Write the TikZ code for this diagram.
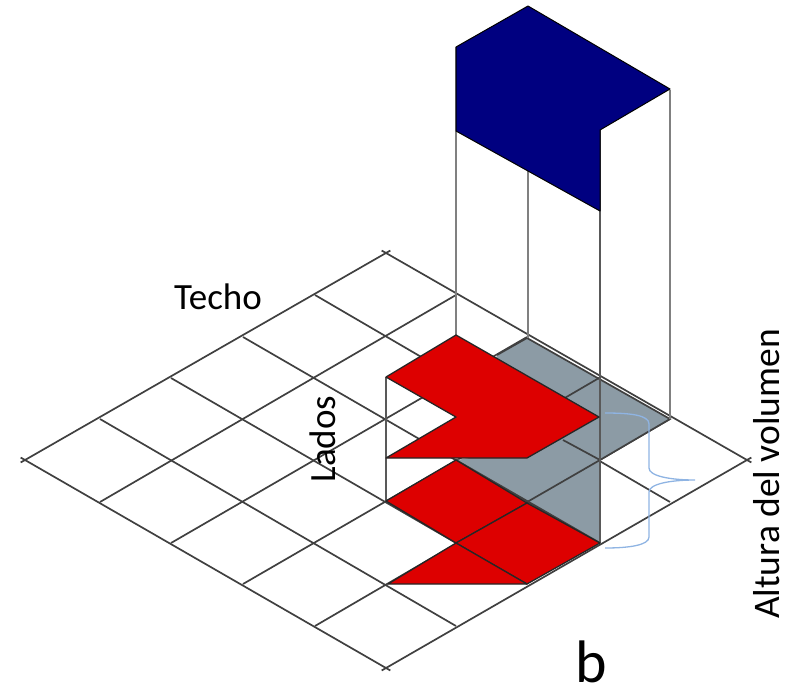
\documentclass[tikz,border=0pt]{standalone}
\usepackage{fontspec}
\setmainfont{Carlito}
\usetikzlibrary{calc}
\definecolor{roofblue}{RGB}{0,0,128}
\definecolor{floorred}{RGB}{221,0,0}
\definecolor{shadegray}{RGB}{140,155,165}
\definecolor{bracecol}{RGB}{143,180,227}
\tikzset{
  gridline/.style={line width=1.7pt,color=black!75},
  cornerline/.style={gridline,shorten <=-5pt,shorten >=-5pt},
  wallline/.style={line width=2.4pt,color=black!50},
  redface/.style={fill=floorred,draw=black!85,line width=1.3pt,line join=round},
  roofface/.style={fill=roofblue,draw=black,line width=1pt,line join=round},
  bracelab/.style={line width=1.3pt,color=bracecol},
  textlab/.style={font=\fontsize{37}{40}\selectfont,inner sep=0pt,text=black}
}
\begin{document}
\begin{tikzpicture}[x=1pt,y=-1pt]
  \useasboundingbox (0,0) rectangle (798,694);
  % floor grid
  \foreach \xa/\ya/\xb/\yb in {315/295/670/502,243/337/599/543,171/378/527/584,100/419/456/626,
    456/295/100/502,527/337/171/543,599/378/243/584,670/419/315/626}
    \draw[gridline] (\xa,\ya)--(\xb,\yb);
  \foreach \xa/\ya/\xb/\yb in {386/253/747/460,25/460/386/668,386/253/25/460,747/460/386/668}
    \draw[cornerline] (\xa,\ya)--(\xb,\yb);
  % shaded cells
  \fill[shadegray] (527,338)--(670,419)--(600,460)--(600,543)--(456,460)--(470,458)--(497,355)--cycle;
  \draw[gridline] (527,338)--(670,419)--(600,460)--(456,543);
  \draw[gridline] (599,378)--(563,399);
  \draw[gridline] (563,440)--(600,460);
  \draw[gridline] (456,460)--(600,543);
  \draw[gridline] (527,338)--(497,355);
  % walls
  \draw[wallline] (456,47)--(456,336);
  \draw[wallline] (528,170)--(528,338);
  \draw[wallline] (670,90)--(670,419);
  \draw[wallline,color=black!65] (600,130)--(600,543);
  \draw[wallline,color=black!65] (386,377)--(386,501);
  % footprint
  \draw[redface] (456,335)--(599,417)--(527,458)--(386,458)--(456,417)--(386,377)--cycle;
  \draw[redface] (456,460)--(527,503)--(456,543)--(386,501)--cycle;
  \draw[redface] (527,503)--(600,543)--(527,584)--(456,543)--cycle;
  \draw[redface] (456,543)--(527,584)--(388,584)--cycle;
  % roof
  \draw[roofface] (456,47)--(528,6)--(670,89)--(600,130)--(600,211)--(456,131)--cycle;
  % brace
  \draw[bracelab] (605,413) .. controls (630,413) and (649,415) .. (649,424)
    -- (649,468) .. controls (649,476) and (670,480) .. (695,480)
    .. controls (670,480) and (649,484) .. (649,492)
    -- (649,537) .. controls (649,545) and (630,548) .. (605,548);
  % labels
  \node[textlab] (techo) at (218,297) {Techo};
  \node[textlab,rotate=90] (lados) at (323,439) {Lados};
  \node[textlab,rotate=90,font=\fontsize{37.5}{40}\selectfont] (altura) at (767,474) {Altura del volumen};
  \node[textlab,font=\fontsize{60}{64}\selectfont] (letra) at (591,662) {b};
\end{tikzpicture}
\end{document}
